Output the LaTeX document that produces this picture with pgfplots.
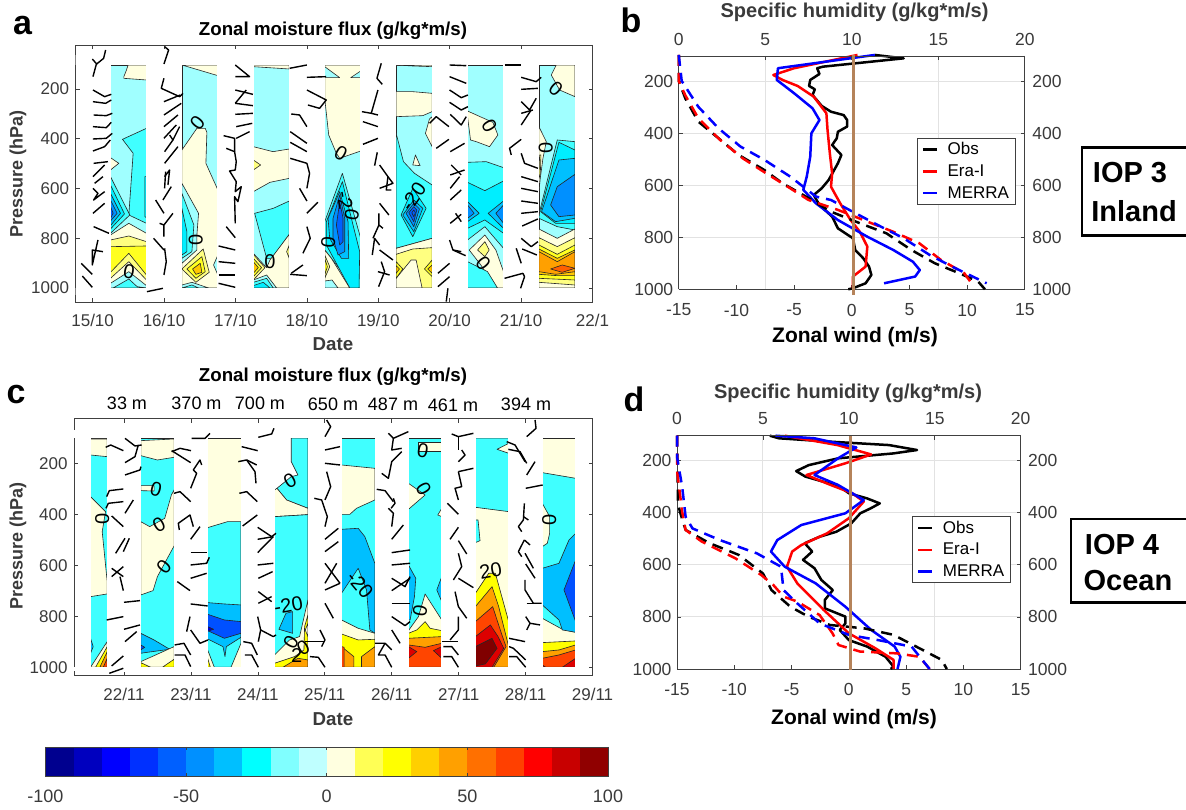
\documentclass[border=0pt]{standalone}
\usepackage{fontspec}
\setmainfont{Liberation Sans}
\usepackage{pgfplots}
\pgfplotsset{compat=1.18}
\definecolor{axg}{HTML}{404040}
\definecolor{txg}{HTML}{3A3A3A}
\definecolor{gridg}{HTML}{E2E2E2}
\definecolor{brownl}{HTML}{B5835A}
\definecolor{aL}{HTML}{A0FFFF}\definecolor{aM}{HTML}{40FFFF}\definecolor{aC}{HTML}{00EEFF}
\definecolor{aS}{HTML}{00C0FF}\definecolor{aT}{HTML}{0090FF}\definecolor{aU}{HTML}{0060FF}
\definecolor{aP}{HTML}{FFFFE0}\definecolor{aY}{HTML}{FFFF80}\definecolor{aG}{HTML}{FFFF20}
\definecolor{aO}{HTML}{FFC800}\definecolor{aA}{HTML}{FFA000}\definecolor{aR}{HTML}{FF6000}
\definecolor{cC}{HTML}{40FFFF}\definecolor{cS}{HTML}{00BFFF}\definecolor{cB}{HTML}{0050FF}\definecolor{cN}{HTML}{0000C8}
\definecolor{cP}{HTML}{FFFFE0}\definecolor{cY}{HTML}{FFFF00}\definecolor{cA}{HTML}{FFA000}
\definecolor{cR}{HTML}{FF4500}\definecolor{cD}{HTML}{DD0000}\definecolor{cK}{HTML}{800000}
\newcommand\fs[1]{\fontsize{#1}{#1}\selectfont}
\pgfplotsset{
 mat/.style={scale only axis,anchor=south west,tick align=inside,major tick length=4pt,
  axis line style={draw=axg,line width=0.9pt,-},tick style={draw=axg,line width=0.7pt},
  tick label style={text=txg},
  /pgf/number format/assume math mode=true,/pgf/number format/1000 sep={}},
 cont/.style={mat,y dir=reverse,ytick={200,400,600,800,1000},
  tick label style={text=txg,font=\fs{17}},clip=true,
  xticklabel style={yshift=-8.5pt},yticklabel style={xshift=-3pt}},
 wind/.style={mat,y dir=reverse,ymin=104,ymax=1000,clip=false,
  tick label style={text=txg,font=\fs{17.5}}},
 windbot/.style={xticklabel style={yshift=-11pt},yticklabel style={xshift=-2pt}},
 windtop/.style={xticklabel style={yshift=7pt},yticklabel style={xshift=4pt}},
 lnw/.style={line width=2.5pt,line join=round},
 dsh/.style={line width=2.5pt,line join=round,dash pattern=on 11pt off 7pt,forget plot},
 ln/.style={draw=black!85,line width=0.6pt,line join=round},
 barbA/.style={black,line width=1.4pt,line join=round,mark=none,y filter/.expression={200+(y-132)*800/597}},
 barbC/.style={black,line width=1.4pt,line join=round,mark=none,y filter/.expression={200+(y-130)*800/612}},
 lgd/.style={legend style={at={#1},anchor=north west,draw=axg,line width=0.9pt,font=\fs{17},text=black,fill=white,
  inner xsep=4pt,inner ysep=2.5pt,row sep=4.5pt,/tikz/column 1/.style={column sep=7.5pt}},
  legend cell align=left,
  legend image code/.code={\draw[##1](0pt,0pt)--(14pt,0pt);}},
}
% contour polygons: local x across a block, pressure axis
\newcommand\polyA[3]{\addplot[ln,fill=#1,mark=none,x filter/.expression={#2+x/214.3},y filter/.expression={200+(y-132)*800/597}] coordinates {#3} -- cycle;}
\newcommand\polyC[3]{\addplot[ln,fill=#1,mark=none,x filter/.expression={#2+x/200.8},y filter/.expression={200+(y-130)*800/612}] coordinates {#3} -- cycle;}
% white masks that trim the outer strokes of a block: day, right end of the gap
\newcommand\mkA[2]{\addplot[fill=white,draw=none,mark=none,x filter/.expression={#1+x/214.3},y filter/.expression={200+(y-132)*800/597}] coordinates {(106.8,30)(#2,30)(#2,750)(106.8,750)} -- cycle;
 \addplot[fill=white,draw=none,mark=none,x filter/.expression={#1+x/214.3},y filter/.expression={200+(y-132)*800/597}] coordinates {(-2,30)(110,30)(110,61)(-2,61)} -- cycle;
 \addplot[fill=white,draw=none,mark=none,x filter/.expression={#1+x/214.3},y filter/.expression={200+(y-132)*800/597}] coordinates {(-2,728)(110,728)(110,750)(-2,750)} -- cycle;}
\newcommand\mkC[3]{\addplot[fill=white,draw=none,mark=none,x filter/.expression={#1+x/200.8},y filter/.expression={200+(y-130)*800/612}] coordinates {(#3,30)(#2,30)(#2,752)(#3,752)} -- cycle;
 \addplot[fill=white,draw=none,mark=none,x filter/.expression={#1+x/200.8},y filter/.expression={200+(y-130)*800/612}] coordinates {(-2,30)(103,30)(103,55)(-2,55)} -- cycle;
 \addplot[fill=white,draw=none,mark=none,x filter/.expression={#1+x/200.8},y filter/.expression={200+(y-130)*800/612}] coordinates {(-2,741)(103,741)(103,752)(-2,752)} -- cycle;}
\newcommand\brA[1]{\addplot[barbA,x filter/.expression={15+(x-69)/214.3}] coordinates {#1};}
\newcommand\brB[1]{\addplot[barbA,x filter/.expression={19+(x-146)/214.3}] coordinates {#1};}
\newcommand\brC[1]{\addplot[barbC,x filter/.expression={22+(x-162)/200.8}] coordinates {#1};}
\newcommand\brD[1]{\addplot[barbC,x filter/.expression={26+(x-185)/200.8}] coordinates {#1};}
\newcommand\T[4]{\pgfmathsetmacro\yy{810-(#2)}\node[inner sep=0pt,#3] at (#1pt,\yy pt) {#4};}
\begin{document}
\begin{tikzpicture}
\path[use as bounding box] (0pt,0pt) rectangle (1186pt,810pt);
% ---------- panel a
\begin{axis}[cont,at={(75.5pt,508pt)},width=517pt,height=257pt,
 xmin=14.76,xmax=22,ymin=23.1,ymax=1056.3,
 xtick={15,16,17,18,19,20,21,22},xticklabels={15/10,16/10,17/10,18/10,19/10,20/10,21/10,22/1}]
% block 1
\polyA{aL}{15.25}{(0,60)(108,60)(108,729)(0,729)}
\polyA{aP}{15.25}{(53,60)(108,60)(108,105)(40,100)(40,95)(48,75)}
\polyA{aP}{15.25}{(0,338)(25,355)(0,375)}
\polyA{aM}{15.25}{(108,250)(36,283)(68,325)(55,510)(108,535)}
\polyA{aC}{15.25}{(108,395)(103,395)(103,515)(108,518)}
\polyA{aM}{15.25}{(0,395)(58,510)(0,565)}
\polyA{aC}{15.25}{(0,420)(42,507)(0,552)}
\polyA{aS}{15.25}{(0,445)(30,505)(0,542)}
\polyA{aT}{15.25}{(0,465)(20,505)(0,528)}
\polyA{aU}{15.25}{(0,485)(8,505)(0,520)}
\polyA{aP}{15.25}{(0,570)(55,535)(108,565)(108,729)(0,729)}
\polyA{aY}{15.25}{(0,585)(55,573)(108,590)(108,729)(0,729)}
\polyA{aG}{15.25}{(0,605)(108,603)(108,729)(0,729)}
\polyA{aY}{15.25}{(0,682)(55,625)(108,690)(108,729)(0,729)}
\polyA{aP}{15.25}{(0,700)(55,650)(108,705)(108,729)(0,729)}
\polyA{aL}{15.25}{(0,715)(55,680)(108,722)(108,729)(0,729)}
\polyA{aM}{15.25}{(8,729)(55,702)(80,725)(108,729)}
% block 2
\polyA{aL}{16.25}{(0,60)(108,60)(108,729)(0,729)}
\polyA{aP}{16.25}{(0,60)(108,60)(108,92)}
\polyA{aP}{16.25}{(0,315)(45,250)(70,250)(75,262)(72,355)(108,435)(108,729)(0,729)}
\polyA{aL}{16.25}{(0,415)(50,505)(45,570)(45,615)(0,655)}
\polyA{aM}{16.25}{(0,445)(36,540)(30,620)(0,640)}
\polyA{aC}{16.25}{(0,490)(15,560)(15,620)(0,630)}
\polyA{aY}{16.25}{(0,672)(64,612)(82,682)(42,712)}
\polyA{aG}{16.25}{(15,672)(60,635)(70,680)(42,700)}
\polyA{aO}{16.25}{(32,672)(55,655)(60,682)(42,688)}
\polyA{aL}{16.25}{(0,720)(30,712)(80,729)(0,729)}
\polyA{aM}{16.25}{(0,729)(30,720)(50,729)}
\polyA{aL}{16.25}{(108,630)(95,660)(108,690)}
% block 3
\polyA{aL}{17.25}{(0,60)(108,60)(108,729)(0,729)}
\polyA{aP}{17.25}{(0,60)(108,60)(108,72)(0,65)}
\polyA{aP}{17.25}{(0,305)(59,320)(108,312)(108,400)(50,412)(0,440)}
\polyA{aY}{17.25}{(0,345)(22,360)(0,375)}
\polyA{aM}{17.25}{(4,505)(60,490)(108,468)(108,568)(55,640)(40,640)}
\polyA{aP}{17.25}{(0,625)(40,668)(50,645)(108,568)(108,729)(0,729)}
\polyA{aY}{17.25}{(0,628)(35,668)(0,705)}
\polyA{aG}{17.25}{(0,640)(25,668)(0,695)}
\polyA{aO}{17.25}{(0,650)(15,668)(0,685)}
\polyA{aL}{17.25}{(0,705)(40,690)(70,729)(0,729)}
\polyA{aM}{17.25}{(0,712)(40,700)(60,729)(0,729)}
\polyA{aC}{17.25}{(0,722)(30,712)(50,729)(0,729)}
\polyA{aY}{17.25}{(108,600)(100,620)(108,640)}
% block 4
\polyA{aL}{18.25}{(0,60)(108,60)(108,729)(0,729)}
\polyA{aP}{18.25}{(0,65)(45,98)(0,98)(0,160)(12,270)(35,325)(45,340)(108,318)(108,98)(78,98)(108,78)(108,60)(0,60)}
\polyA{aM}{18.25}{(0,530)(53,385)(108,580)(108,729)(90,729)(20,640)(0,615)}
\polyA{aC}{18.25}{(5,530)(53,410)(85,540)(105,620)(103,729)(75,729)(5,600)}
\polyA{aS}{18.25}{(10,520)(45,440)(70,530)(72,640)(50,640)(15,580)}
\polyA{aT}{18.25}{(25,520)(45,450)(60,520)(60,620)(40,630)(25,580)}
\polyA{aU}{18.25}{(45,470)(55,520)(55,590)(45,600)(35,540)}
\polyA{aP}{18.25}{(0,615)(20,640)(75,729)(0,729)}
\polyA{aY}{18.25}{(0,630)(15,665)(0,700)}
\polyA{aG}{18.25}{(0,640)(8,665)(0,690)}
\polyA{aL}{18.25}{(0,708)(22,705)(40,729)(0,729)}
% block 5
\polyA{aL}{19.25}{(0,60)(108,60)(108,729)(0,729)}
\polyA{aP}{19.25}{(0,60)(108,60)(108,65)(50,63)}
\polyA{aP}{19.25}{(0,140)(50,140)(108,145)(108,200)(80,212)(0,215)}
\polyA{aP}{19.25}{(108,215)(100,222)(88,265)(108,305)}
\polyA{aM}{19.25}{(0,265)(22,350)(55,385)(108,420)(108,580)(0,610)}
\polyA{aP}{19.25}{(50,360)(58,330)(72,362)}
\polyA{aC}{19.25}{(15,510)(50,430)(90,490)(50,575)}
\polyA{aS}{19.25}{(20,510)(53,465)(80,490)(53,560)}
\polyA{aT}{19.25}{(30,505)(53,475)(70,492)(53,545)}
\polyA{aU}{19.25}{(38,503)(53,485)(62,495)(53,530)}
\polyA{aU}{19.25}{(47,503)(53,495)(58,503)(53,515)}
\polyA{aP}{19.25}{(0,610)(108,580)(108,729)(0,729)}
\polyA{aY}{19.25}{(0,628)(50,612)(108,608)(108,729)(0,729)}
\polyA{aP}{19.25}{(0,700)(45,645)(60,645)(78,729)(0,729)}
\polyA{aG}{19.25}{(0,650)(20,672)(0,700)}
\polyA{aO}{19.25}{(0,662)(10,672)(0,685)}
\polyA{aG}{19.25}{(108,645)(85,672)(108,695)}
\polyA{aO}{19.25}{(108,660)(95,672)(108,685)}
% block 6
\polyA{aL}{20.25}{(0,60)(108,60)(108,729)(0,729)}
\polyA{aP}{20.25}{(0,198)(31,212)(76,232)(91,270)(66,305)(26,290)(9,285)(0,215)}
\polyA{aM}{20.25}{(0,352)(56,350)(108,368)(108,729)(0,729)}
\polyA{aC}{20.25}{(0,412)(52,437)(108,408)(108,565)(52,525)(0,550)}
\polyA{aS}{20.25}{(0,470)(35,505)(0,530)}
\polyA{aT}{20.25}{(0,480)(20,505)(0,520)}
\polyA{aS}{20.25}{(108,468)(62,505)(108,550)}
\polyA{aT}{20.25}{(108,480)(85,505)(108,535)}
\polyA{aL}{20.25}{(0,585)(52,545)(108,610)(108,729)(0,729)}
\polyA{aP}{20.25}{(5,615)(52,570)(85,615)(108,680)(108,729)(85,729)(40,660)}
\polyA{aY}{20.25}{(30,615)(52,590)(65,615)(52,635)}
\polyA{aM}{20.25}{(0,650)(60,680)(90,729)(0,729)}
% block 7
\polyA{aL}{21.25}{(0,60)(108,60)(108,729)(0,729)}
\polyA{aP}{21.25}{(52,60)(37,90)(62,135)(108,155)(108,60)}
\polyA{aP}{21.25}{(0,245)(22,290)(12,340)(4,400)(0,440)}
\polyA{aY}{21.25}{(2,330)(6,330)(4,390)(0,400)}
\polyA{aM}{21.25}{(2,500)(55,285)(108,290)(108,555)(55,545)(0,520)}
\polyA{aC}{21.25}{(5,500)(60,292)(108,315)(108,535)(50,535)}
\polyA{aS}{21.25}{(8,500)(60,345)(108,340)(108,520)(50,530)}
\polyA{aT}{21.25}{(35,480)(55,425)(108,388)(108,510)(60,515)}
\polyA{aP}{21.25}{(0,552)(55,580)(108,552)(108,729)(0,729)}
\polyA{aY}{21.25}{(0,578)(55,605)(108,578)(108,729)(0,729)}
\polyA{aG}{21.25}{(0,600)(55,628)(108,600)(108,729)(0,729)}
\polyA{aO}{21.25}{(0,612)(55,640)(108,615)(108,729)(0,729)}
\polyA{aA}{21.25}{(0,620)(55,650)(108,620)(108,729)(0,729)}
\polyA{aR}{21.25}{(35,672)(70,660)(108,670)(70,682)}
\polyA{aO}{21.25}{(0,680)(50,688)(108,680)(108,729)(0,729)}
\polyA{aG}{21.25}{(0,688)(55,692)(108,692)(108,729)(0,729)}
\polyA{aY}{21.25}{(0,700)(108,705)(108,729)(0,729)}
\polyA{aP}{21.25}{(0,712)(108,720)(108,729)(0,729)}
\mkA{14.75}{108.2}
\mkA{15.25}{215.3}\mkA{16.25}{215.3}\mkA{17.25}{215.3}\mkA{18.25}{215.3}\mkA{19.25}{215.3}\mkA{20.25}{215.3}\mkA{21.25}{112}
% barbs, column 15..18
\brA{(108,15)(102,40)(80,58)(70,95)}\brA{(68,42)(82,58)}
\brA{(70,135)(105,155)(125,148)}\brA{(70,170)(108,175)(125,165)}
\brA{(72,210)(110,212)(128,205)}\brA{(70,245)(110,248)(125,232)}
\brA{(70,282)(110,280)(128,265)}\brA{(70,318)(105,305)(122,285)}
\brA{(72,355)(115,350)}\brA{(70,395)(105,360)}\brA{(75,415)(100,395)}
\brA{(70,430)(85,445)(72,465)(105,440)}\brA{(70,505)(105,475)}\brA{(72,545)(118,565)}
\brA{(35,655)(68,688)}\brA{(38,693)(68,727)}\brA{(85,585)(68,660)(68,615)(100,620)}
\brA{(285,5)(297,15)(283,57)}\brA{(283,100)(275,130)(330,155)(340,145)}
\brA{(283,170)(332,150)}\brA{(283,210)(335,175)}\brA{(283,245)(325,210)}\brA{(283,280)(320,240)}
\brA{(300,270)(310,285)(285,320)}\brA{(330,245)(310,285)}\brA{(285,355)(325,305)}
\brA{(285,395)(300,375)(295,420)}\brA{(285,430)(288,380)}\brA{(280,465)(305,425)}
\brA{(258,465)(283,505)}\brA{(283,575)(283,540)(310,505)}\brA{(283,540)(270,535)}
\brA{(252,580)(283,615)}\brA{(285,610)(290,650)(283,690)}\brA{(232,740)(280,730)}
\brA{(497,60)(540,95)(497,95)}\brA{(497,135)(550,148)}\brA{(530,135)(497,175)}\brA{(497,175)(550,182)}
\brA{(497,208)(550,205)}\brA{(500,245)(548,235)}\brA{(500,280)(540,260)}
\brA{(462,272)(495,280)(495,320)}\brA{(470,310)(495,320)(500,350)(497,375)(480,378)(500,410)(497,440)(515,425)(505,470)(495,455)(497,535)}
\brA{(470,545)(497,578)}\brA{(447,603)(497,615)}\brA{(447,650)(497,655)}\brA{(447,690)(497,690)}\brA{(447,715)(497,727)}
\brA{(660,70)(712,60)}\brA{(712,97)(770,95)}\brA{(712,135)(770,165)(750,190)(715,180)}
\brA{(665,207)(690,210)(712,245)}\brA{(662,260)(712,295)}\brA{(662,292)(712,320)}
\brA{(662,340)(712,355)(720,385)(712,430)}\brA{(690,430)(712,468)}\brA{(712,505)(745,472)}
\brA{(712,545)(722,580)(700,625)}\brA{(662,688)(712,692)}\brA{(665,685)(700,660)}
% column 19..21
\brB{(155,55)(142,100)(158,118)}\brB{(145,135)(125,205)(97,200)}\brB{(125,205)(145,210)}
\brB{(100,230)(145,245)}\brB{(100,298)(145,280)}\brB{(135,362)(143,322)}
\brB{(150,360)(175,395)(190,415)(150,430)}\brB{(175,395)(170,435)(185,435)}\brB{(150,475)(178,510)}
\brB{(148,505)(148,540)(160,550)}\brB{(130,580)(148,540)}\brB{(128,630)(135,580)(150,600)}
\brB{(150,615)(190,645)}\brB{(145,680)(180,690)}\brB{(155,650)(165,680)(147,725)}
\brB{(360,60)(410,62)}\brB{(360,95)(410,115)}\brB{(360,135)(395,158)(415,150)}
\brB{(360,172)(395,195)(415,185)}\brB{(362,208)(395,240)(410,215)}\brB{(300,235)(320,215)(358,245)}
\brB{(320,310)(358,283)}\brB{(362,320)(405,295)}\brB{(362,390)(405,375)}\brB{(362,430)(390,395)}
\brB{(395,390)(365,360)}\brB{(362,465)(395,435)}\brB{(362,535)(395,508)}\brB{(378,505)(395,530)}
\brB{(360,585)(370,615)(408,632)}\brB{(395,620)(370,615)}\brB{(325,685)(360,655)}\brB{(325,725)(360,695)}\brB{(355,730)(350,770)}
\brB{(525,60)(575,60)}\brB{(575,97)(620,110)(635,97)}\brB{(575,133)(625,130)}
\brB{(575,170)(600,195)(620,160)}\brB{(575,205)(610,195)}\brB{(575,240)(605,195)}
\brB{(545,330)(540,310)(575,283)}\brB{(575,325)(585,355)(625,370)}\brB{(575,395)(625,410)}
\brB{(575,430)(625,440)}\brB{(575,468)(625,475)}\brB{(575,505)(625,500)}\brB{(578,543)(625,522)}
\brB{(575,580)(605,605)(625,590)}\brB{(578,612)(622,630)}\brB{(560,610)(575,655)}\brB{(525,700)(580,685)(585,695)(573,730)}
\end{axis}
% ---------- panel c
\begin{axis}[cont,at={(74pt,134.3pt)},width=518.5pt,height=257pt,
 xmin=21.253,xmax=29,ymin=25,ymax=1033,
 xtick={22,23,24,25,26,27,28,29},xticklabels={22/11,23/11,24/11,25/11,26/11,27/11,28/11,29/11}]
% block 0
\polyC{cC}{21.5}{(0,54)(50,54)(50,742)(0,742)}
\polyC{cP}{21.5}{(0,57)(50,57)(50,110)(0,105)}
\polyC{cP}{21.5}{(0,230)(45,275)(35,335)(50,485)(50,522)(0,530)}
\polyC{cS}{21.5}{(0,655)(8,680)(0,700)}
\polyC{cP}{21.5}{(0,742)(50,665)(50,742)}
\polyC{cY}{21.5}{(15,742)(50,680)(50,742)}
\polyC{cA}{21.5}{(28,742)(50,695)(50,742)}
\polyC{cR}{21.5}{(38,742)(50,715)(50,742)}
% block 1
\polyC{cC}{22.25}{(0,54)(100,54)(100,742)(0,742)}
\polyC{cP}{22.25}{(0,62)(100,57)(100,112)(50,120)(0,107)}
\polyC{cP}{22.25}{(0,197)(40,197)(40,213)(0,212)}
\polyC{cP}{22.25}{(0,305)(27,320)(72,295)(92,225)(100,210)(100,378)(50,470)(37,512)(0,525)}
\polyC{cS}{22.25}{(0,640)(40,660)(87,688)(20,697)(0,700)}
\polyC{cB}{22.25}{(0,675)(12,682)(0,690)}
\polyC{cP}{22.25}{(0,725)(45,705)(100,680)(100,742)(0,742)}
\polyC{cY}{22.25}{(0,728)(30,742)(0,742)}
\polyC{cY}{22.25}{(65,742)(100,718)(100,742)}
% block 2
\polyC{cP}{23.25}{(0,54)(100,54)(100,742)(0,742)}
\polyC{cC}{23.25}{(0,323)(60,305)(100,305)(100,670)(70,742)(20,742)(0,690)}
\polyC{cS}{23.25}{(0,548)(50,552)(100,555)(100,652)(56,680)(52,710)(46,680)(0,657)}
\polyC{cB}{23.25}{(0,583)(50,600)(100,605)(100,640)(50,655)(0,632)}
\polyC{cN}{23.25}{(0,620)(18,628)(0,634)}
\polyC{cY}{23.25}{(0,715)(8,742)(0,742)}
% block 3
\polyC{cC}{24.25}{(50,54)(100,54)(100,265)(36,240)(7,205)(50,170)(70,165)(50,125)}
\polyC{cP}{24.25}{(0,210)(7,205)(36,240)(100,265)(100,284)(0,290)}
\polyC{cC}{24.25}{(0,290)(100,284)(100,742)(0,742)}
\polyC{cS}{24.25}{(13,628)(34,580)(54,575)(54,640)}
\polyC{cP}{24.25}{(0,705)(45,660)(75,650)(100,540)(100,742)(0,742)}
\polyC{cY}{24.25}{(0,730)(60,710)(88,690)(90,620)(100,585)(100,742)(0,742)}
\polyC{cP}{24.25}{(100,610)(92,630)(100,650)}
\polyC{cA}{24.25}{(25,742)(70,715)(100,720)(100,742)}
% block 4
\polyC{cC}{25.25}{(0,54)(100,54)(100,742)(0,742)}
\polyC{cP}{25.25}{(0,135)(100,145)(100,240)(45,265)(25,283)(0,283)}
\polyC{cS}{25.25}{(0,328)(50,325)(70,350)(100,430)(100,640)(85,630)(75,510)(50,445)(0,520)}
\polyC{cP}{25.25}{(0,600)(50,625)(100,640)(100,742)(0,742)}
\polyC{cY}{25.25}{(0,642)(50,660)(100,658)(100,742)(0,742)}
\polyC{cA}{25.25}{(0,680)(37,710)(37,742)(0,742)}
\polyC{cA}{25.25}{(60,710)(100,680)(100,742)(60,742)}
\polyC{cR}{25.25}{(0,680)(8,682)(8,742)(0,742)}
% block 5
\polyC{cC}{26.25}{(0,54)(100,54)(100,742)(0,742)}
\polyC{cP}{26.25}{(30,68)(100,68)(100,93)(30,93)}
\polyC{cP}{26.25}{(0,190)(50,225)(0,268)}
\polyC{cP}{26.25}{(100,265)(88,285)(100,290)}
\polyC{cS}{26.25}{(0,435)(22,475)(18,530)(5,600)(0,600)}
\polyC{cS}{26.25}{(100,470)(85,510)(100,545)}
\polyC{cP}{26.25}{(0,632)(30,590)(50,522)(100,600)(100,640)(50,650)(0,650)}
\polyC{cY}{26.25}{(0,640)(25,630)(50,605)(65,625)(100,632)(100,742)(0,742)}
\polyC{cA}{26.25}{(0,655)(100,650)(100,742)(0,742)}
\polyC{cR}{26.25}{(0,675)(50,682)(100,670)(100,742)(0,742)}
\polyC{cD}{26.25}{(0,680)(25,695)(0,715)}
\polyC{cD}{26.25}{(100,680)(75,692)(100,715)}
% block 6
\polyC{cP}{27.25}{(0,54)(100,54)(100,742)(0,742)}
\polyC{cC}{27.25}{(0,54)(100,54)(100,70)(65,88)(100,100)(100,275)(0,262)}
\polyC{cC}{27.25}{(0,300)(8,300)(14,362)(0,368)}
\polyC{cY}{27.25}{(0,520)(40,460)(60,460)(100,605)(100,742)(0,742)}
\polyC{cA}{27.25}{(0,560)(50,500)(70,560)(100,680)(100,742)(0,742)}
\polyC{cR}{27.25}{(0,605)(52,560)(78,640)(92,680)(55,742)(0,742)}
\polyC{cD}{27.25}{(0,650)(45,615)(68,650)(85,685)(50,742)(0,742)}
\polyC{cK}{27.25}{(0,680)(50,655)(65,685)(30,732)(0,738)}
% block 7
\polyC{cP}{28.25}{(0,54)(100,54)(100,742)(0,742)}
\polyC{cC}{28.25}{(0,158)(100,175)(100,637)(60,628)(0,595)(0,380)(15,370)(22,340)(22,290)(0,250)}
\polyC{cS}{28.25}{(0,445)(50,430)(80,360)(100,340)(100,637)(60,630)(50,600)(0,555)}
\polyC{cB}{28.25}{(100,420)(65,510)(100,605)}
\polyC{cY}{28.25}{(0,668)(100,663)(100,742)(0,742)}
\polyC{cA}{28.25}{(0,695)(50,690)(100,675)(100,742)(0,742)}
\polyC{cR}{28.25}{(0,715)(50,705)(100,690)(100,742)(0,742)}
\polyC{cD}{28.25}{(60,742)(100,715)(100,742)}
\polyC{cD}{28.25}{(0,735)(10,742)(0,742)}
\mkC{21.25}{51.1}{40}
\mkC{21.5}{151.5}{49}
\mkC{22.25}{201.7}{99}\mkC{23.25}{201.7}{99}\mkC{24.25}{201.7}{99}\mkC{25.25}{201.7}{99}\mkC{26.25}{201.7}{99}\mkC{27.25}{201.7}{99}\mkC{28.25}{103}{99}
% barbs
\brC{(107,82)(122,75)(160,92)}\brC{(165,55)(195,78)(215,75)}\brC{(205,75)(195,110)(165,128)}
\brC{(165,165)(210,150)(213,140)}\brC{(110,230)(118,212)(160,207)}\brC{(108,265)(115,250)(160,245)}
\brC{(125,288)(160,320)}\brC{(165,280)(190,240)}\brC{(137,400)(165,355)}\brC{(160,395)(178,355)}
\brC{(125,445)(160,470)}\brC{(125,470)(160,440)}\brC{(150,470)(160,512)}\brC{(162,547)(210,542)}
\brC{(110,600)(160,590)}\brC{(162,628)(210,615)}\brC{(165,665)(200,635)}\brC{(125,738)(160,708)}\brC{(118,760)(160,745)}
\brC{(305,95)(330,85)(363,92)}\brC{(305,92)(362,128)}\brC{(365,55)(405,55)(420,40)}
\brC{(362,205)(380,160)(370,150)(390,120)(395,135)}\brC{(312,220)(330,215)(362,245)}
\brC{(328,330)(325,310)(360,285)(370,320)}\brC{(362,358)(390,320)}\brC{(362,398)(412,398)}
\brC{(362,435)(410,430)(418,412)}\brC{(362,475)(410,460)}\brC{(322,485)(360,512)}\brC{(362,552)(413,558)}
\brC{(350,635)(360,590)}\brC{(362,630)(390,670)(414,660)}\brC{(314,675)(342,670)(362,705)}\brC{(314,705)(345,705)(362,740)}
\brC{(565,52)(605,42)(612,25)}\brC{(515,80)(563,92)}\brC{(505,125)(530,120)(560,135)}\brC{(530,120)(555,155)(558,190)}
\brC{(508,220)(530,215)(562,245)}\brC{(518,318)(562,285)}\brC{(563,322)(605,350)(618,340)}\brC{(563,358)(610,350)}
\brC{(563,398)(610,350)}\brC{(563,435)(610,430)}\brC{(565,475)(608,455)}\brC{(565,515)(605,545)}\brC{(565,550)(605,530)}
\brC{(563,590)(572,630)(565,665)}\brC{(572,630)(610,650)(618,645)}\brC{(520,665)(545,670)(562,705)}\brC{(525,705)(545,705)(565,742)}
\brC{(770,0)(782,20)(765,50)}\brC{(765,90)(810,80)}\brC{(765,130)(810,135)}\brC{(770,155)(782,200)(765,240)}
\brC{(733,235)(755,240)(772,290)(765,320)}\brC{(765,358)(805,325)}\brC{(765,395)(805,365)}
\brC{(765,430)(810,490)}\brC{(765,490)(800,430)}\brC{(765,510)(810,490)}\brC{(765,550)(790,595)}
\brC{(750,630)(765,660)(755,680)}\brC{(705,665)(765,665)}\brC{(720,710)(745,712)(765,742)}
\brD{(175,40)(190,55)(235,35)}\brD{(190,55)(185,90)(215,85)}\brD{(155,160)(175,175)(185,125)(215,95)}
\brD{(140,208)(165,212)(190,245)}\brD{(190,235)(195,250)(183,265)}\brD{(175,265)(190,280)(185,320)}
\brD{(185,358)(220,315)}\brD{(185,398)(240,390)}\brD{(185,435)(240,430)}\brD{(185,475)(225,500)(240,470)}
\brD{(185,512)(240,475)}\brD{(185,550)(240,550)}\brD{(185,590)(225,617)(240,605)}\brD{(185,630)(210,670)}
\brD{(135,670)(165,670)(185,690)}\brD{(165,670)(145,705)(165,705)(185,742)}
\brD{(365,42)(385,50)(430,40)}\brD{(385,50)(385,90)}\brD{(395,90)(405,105)(385,125)}\brD{(385,155)(430,145)}
\brD{(385,155)(395,200)(375,205)(385,240)}\brD{(352,250)(385,283)}\brD{(360,358)(385,322)}\brD{(385,362)(410,402)}
\brD{(385,400)(395,440)(370,480)}\brD{(385,475)(430,503)}\brD{(375,515)(385,560)(410,595)}\brD{(385,590)(385,630)(360,660)}
\brD{(335,665)(385,665)}\brD{(340,680)(365,680)(385,705)}\brD{(340,710)(365,710)(385,742)}
\brD{(615,0)(618,25)(590,50)}\brD{(530,65)(555,75)(585,125)}\brD{(535,88)(570,95)(590,130)}\brD{(590,165)(615,125)}
\brD{(587,205)(638,195)}\brD{(583,250)(580,300)(565,320)(575,335)}\brD{(580,290)(595,300)}\brD{(583,360)(565,395)(575,410)}
\brD{(583,360)(600,375)}\brD{(585,400)(610,445)}\brD{(587,432)(615,475)}\brD{(585,480)(585,510)(610,550)(635,550)}
\brD{(590,550)(610,550)}\brD{(587,590)(600,610)(630,615)}\brD{(600,610)(590,630)}\brD{(537,655)(585,665)}
\brD{(537,680)(550,685)(587,720)}\brD{(537,710)(560,710)(587,742)}
\end{axis}
% ---------- panel b
\begin{axis}[wind,windbot,at={(678.75pt,520.7pt)},width=346pt,height=233.3pt,
 xmin=-15,xmax=15,axis x line*=bottom,axis y line*=left,
 xtick={-15,-10,-5,0,5,10,15},xticklabels={-15,-10,-5,0,5,10,15},
 ytick={200,400,600,800,1000},ymajorgrids,grid style={gridg,line width=0.9pt},
 extra x ticks={-7.5,7.5},extra x tick labels={},extra x tick style={grid=major,major tick length=0pt}]
\addplot[lnw,black] coordinates {(2,100)(4.5,113)(-2.5,145)(-3,151)(-2.8,173)(-3.6,196)(-3.7,219)(-3.2,232)(-3.4,254)(-2.6,296)(-1.8,318)(-0.7,331)(-0.4,350)(-0.4,375)(-1.2,395)(-1.3,420)(-1.7,446)(-0.9,484)(-1.2,516)(-1.6,548)(-2,580)(-2.6,612)(-3.3,638)(-2.8,676)(-1.7,721)(-1.2,766)(0.1,804)(0.3,849)(1,881)(1.5,913)(1.7,945)(1.2,977)(0.1,996)(-0.3,1000)};
\addplot[lnw,red] coordinates {(0.5,100)(-5,151)(-6.8,177)(-6,196)(-4.7,219)(-3.3,260)(-2.2,324)(-2.1,388)(-1.9,478)(-1.7,555)(-1.8,606)(-1,670)(-0.1,734)(0.7,779)(1.35,836)(1.2,913)(0.1,951)(0.1,996)};
\addplot[lnw,blue] coordinates {(2,100)(-6.4,151)(-6.5,196)(-5,247)(-3.4,305)(-2.8,350)(-3.5,401)(-3.6,491)(-3.9,567)(-4.2,618)(-3.1,670)(-1.2,734)(1.35,798)(3.6,849)(5.3,894)(5.9,926)(5.5,951)(2.8,977)};
\end{axis}
\begin{axis}[wind,windtop,lgd={(0.689,0.65)},at={(678.75pt,520.7pt)},width=346pt,height=233.3pt,
 xmin=0,xmax=20,axis x line*=top,axis y line*=right,
 xtick={0,5,10,15,20},ytick={200,400,600,800,1000}]
\addplot[dsh,black] coordinates {(0,100)(0,200)(0.38,267)(1.13,356)(2.3,420)(3.46,484)(4.95,542)(6,593)(7.2,638)(8.8,702)(10.5,747)(12,785)(13.45,849)(14.8,900)(16.2,938)(17.3,970)(17.7,1000)};
\addplot[dsh,red] coordinates {(0,100)(0,200)(0.38,255)(1.13,343)(2.4,427)(3.7,497)(5.06,555)(6.44,612)(7.5,657)(9.2,695)(10.9,740)(12.4,779)(13.9,823)(15.15,887)(16.5,938)(17.07,990)};
\addplot[dsh,blue] coordinates {(0,100)(0.17,200)(1.13,299)(2.3,382)(3.57,452)(4.95,503)(6.44,567)(7.93,644)(8.8,657)(10.05,702)(11.5,753)(13,804)(14.5,868)(15.8,913)(17.8,977)};
\addplot[line width=2.5pt,brownl,forget plot] coordinates {(10.09,100)(10.09,1020)};
\addlegendimage{line width=2.5pt,black}\addlegendentry{Obs}
\addlegendimage{line width=2.5pt,red}\addlegendentry{Era-I}
\addlegendimage{line width=2.5pt,blue}\addlegendentry{MERRA}
\end{axis}
% ---------- panel d
\begin{axis}[wind,windbot,at={(677pt,141pt)},width=343.7pt,height=233.3pt,
 xmin=-15,xmax=15,axis x line*=bottom,axis y line*=left,
 xtick={-15,-10,-5,0,5,10,15},xticklabels={-15,-10,-5,0,5,10,15},
 ytick={200,400,600,800,1000},ymajorgrids,grid style={gridg,line width=0.9pt},
 extra x ticks={-7.5,7.5},extra x tick labels={},extra x tick style={grid=major,major tick length=0pt}]
\addplot[lnw,black] coordinates {(-6.9,104)(-6.1,114)(-1.6,127)(3.5,140)(5.95,159)(3.9,172)(-0.95,191)(-3.5,217)(-4.6,240)(-3.8,261)(-2.2,281)(-0.8,300)(0,325)(1.6,345)(2.7,364)(1.9,383)(1,402)(0.2,441)(-1.1,473)(-2.55,492)(-3.85,517)(-3.2,549)(-4,581)(-3,613)(-2.4,658)(-1.4,697)(-2.1,735)(-2.1,767)(-0.3,799)(-0.3,825)(-0.8,850)(0,889)(1.6,914)(3.2,953)(3.9,991)(3.65,1000)};
\addplot[lnw,red] coordinates {(-5.6,104)(-1,140)(1.95,176)(-0.3,210)(-3.7,255)(-1.6,293)(0.3,325)(1.3,357)(0,421)(-1.9,479)(-4.15,524)(-4.95,549)(-5.4,607)(-4.5,671)(-2.2,773)(0,863)(2.3,920)(3.9,965)(3.9,1000)};
\addplot[lnw,blue] coordinates {(-6.4,104)(-3,114)(0.65,149)(-0.95,191)(-3,255)(-0.95,293)(1.3,351)(-0.3,402)(-4.15,447)(-6.25,505)(-6.8,549)(-5.6,607)(-2.9,671)(-0.3,761)(1.95,850)(4,914)(4.5,953)(4.25,1000)};
\end{axis}
\begin{axis}[wind,windtop,lgd={(0.685,0.656)},at={(677pt,141pt)},width=343.7pt,height=233.3pt,
 xmin=0,xmax=20,axis x line*=top,axis y line*=right,
 xtick={0,5,10,15,20},ytick={200,400,600,800,1000}]
\addplot[dsh,black] coordinates {(0,104)(0.06,364)(0.17,396)(0.5,466)(1.9,517)(3.6,562)(5,633)(5.5,697)(6.6,761)(7.65,799)(8.9,831)(10.9,844)(12.6,869)(14.3,927)(15.4,965)(15.7,1000)};
\addplot[dsh,red] coordinates {(0,104)(0,236)(0.3,396)(0.5,466)(1.45,511)(3.4,575)(4.9,639)(5.6,677)(6.2,722)(7,741)(8.3,793)(9.05,863)(9.4,908)(10.65,933)(12.8,940)(14.1,953)(14.7,1000)};
\addplot[dsh,blue] coordinates {(0,104)(0,185)(0.3,300)(0.5,415)(0.9,460)(2.5,505)(4.65,556)(6.05,607)(6.2,697)(7,748)(8.3,825)(10,869)(11.7,889)(13.65,914)(14.7,1000)};
\addplot[line width=2.5pt,brownl,forget plot] coordinates {(10.09,104)(10.09,1005)};
\addlegendimage{line width=2.5pt,black}\addlegendentry{Obs}
\addlegendimage{line width=2.5pt,red}\addlegendentry{Era-I}
\addlegendimage{line width=2.5pt,blue}\addlegendentry{MERRA}
\end{axis}
% ---------- colour bar
\begin{axis}[mat,at={(45.5pt,34pt)},width=562.5pt,height=29pt,xmin=-100,xmax=100,ymin=0,ymax=1,
 ytick=\empty,xtick={-100,-50,0,50,100},xticklabels={-100,-50,0,50,100},major tick length=3pt,
 tick label style={text=txg,font=\fs{18}},xticklabel style={yshift=-10pt},axis on top]
\addplot[draw=none,fill={rgb,255:red,0;green,0;blue,143}] coordinates {(-100,0)(-90,0)(-90,1)(-100,1)} -- cycle;
\addplot[draw=none,fill={rgb,255:red,0;green,0;blue,191}] coordinates {(-90,0)(-80,0)(-80,1)(-90,1)} -- cycle;
\addplot[draw=none,fill={rgb,255:red,0;green,0;blue,255}] coordinates {(-80,0)(-70,0)(-70,1)(-80,1)} -- cycle;
\addplot[draw=none,fill={rgb,255:red,0;green,48;blue,255}] coordinates {(-70,0)(-60,0)(-60,1)(-70,1)} -- cycle;
\addplot[draw=none,fill={rgb,255:red,0;green,96;blue,255}] coordinates {(-60,0)(-50,0)(-50,1)(-60,1)} -- cycle;
\addplot[draw=none,fill={rgb,255:red,0;green,144;blue,255}] coordinates {(-50,0)(-40,0)(-40,1)(-50,1)} -- cycle;
\addplot[draw=none,fill={rgb,255:red,0;green,191;blue,255}] coordinates {(-40,0)(-30,0)(-30,1)(-40,1)} -- cycle;
\addplot[draw=none,fill={rgb,255:red,0;green,255;blue,255}] coordinates {(-30,0)(-20,0)(-20,1)(-30,1)} -- cycle;
\addplot[draw=none,fill={rgb,255:red,128;green,255;blue,255}] coordinates {(-20,0)(-10,0)(-10,1)(-20,1)} -- cycle;
\addplot[draw=none,fill={rgb,255:red,191;green,255;blue,255}] coordinates {(-10,0)(0,0)(0,1)(-10,1)} -- cycle;
\addplot[draw=none,fill={rgb,255:red,255;green,255;blue,224}] coordinates {(0,0)(10,0)(10,1)(0,1)} -- cycle;
\addplot[draw=none,fill={rgb,255:red,255;green,255;blue,85}] coordinates {(10,0)(20,0)(20,1)(10,1)} -- cycle;
\addplot[draw=none,fill={rgb,255:red,255;green,255;blue,0}] coordinates {(20,0)(30,0)(30,1)(20,1)} -- cycle;
\addplot[draw=none,fill={rgb,255:red,255;green,207;blue,0}] coordinates {(30,0)(40,0)(40,1)(30,1)} -- cycle;
\addplot[draw=none,fill={rgb,255:red,255;green,160;blue,0}] coordinates {(40,0)(50,0)(50,1)(40,1)} -- cycle;
\addplot[draw=none,fill={rgb,255:red,255;green,112;blue,0}] coordinates {(50,0)(60,0)(60,1)(50,1)} -- cycle;
\addplot[draw=none,fill={rgb,255:red,255;green,64;blue,0}] coordinates {(60,0)(70,0)(70,1)(60,1)} -- cycle;
\addplot[draw=none,fill={rgb,255:red,255;green,0;blue,0}] coordinates {(70,0)(80,0)(80,1)(70,1)} -- cycle;
\addplot[draw=none,fill={rgb,255:red,200;green,0;blue,0}] coordinates {(80,0)(90,0)(90,1)(80,1)} -- cycle;
\addplot[draw=none,fill={rgb,255:red,144;green,0;blue,0}] coordinates {(90,0)(100,0)(100,1)(90,1)} -- cycle;
\end{axis}
% ---------- texts
\T{333}{31}{font=\fs{18.7}\bfseries}{Zonal moisture flux (g/kg*m/s)}
\T{333}{377}{font=\fs{18.7}\bfseries}{Zonal moisture flux (g/kg*m/s)}
\T{333}{344}{font=\fs{18.7}\bfseries,text=txg}{Date}
\T{333}{719}{font=\fs{18.7}\bfseries,text=txg}{Date}
\T{18}{174}{font=\fs{18}\bfseries,text=txg,rotate=90}{Pressure (hPa)}
\T{18}{546}{font=\fs{18}\bfseries,text=txg,rotate=90}{Pressure (hPa)}
\T{854.5}{12}{font=\fs{20}\bfseries,text=txg}{Specific humidity (g/kg*m/s)}
\T{848}{393}{font=\fs{20}\bfseries,text=txg}{Specific humidity (g/kg*m/s)}
\T{855}{337}{font=\fs{21}\bfseries}{Zonal wind (m/s)}
\T{854}{719}{font=\fs{21}\bfseries}{Zonal wind (m/s)}
\T{22.5}{26}{font=\fs{34}\bfseries}{a}
\T{631}{20}{font=\fs{34}\bfseries}{b}
\T{16}{395}{font=\fs{34}\bfseries}{c}
\T{634}{399}{font=\fs{34}\bfseries}{d}
\T{127}{403}{font=\fs{18}}{33 m}
\T{196.5}{403}{font=\fs{18}}{370 m}
\T{260}{403}{font=\fs{18}}{700 m}
\T{333}{404}{font=\fs{18}}{650 m}
\T{393}{404}{font=\fs{18}}{487 m}
\T{453}{405}{font=\fs{18}}{461 m}
\T{526}{404}{font=\fs{18}}{394 m}
% contour labels
\newcommand\lb[4]{\T{#1}{#2}{font=\fs{20},rotate=#3}{#4}}
\lb{129}{271.7}{-10}{0}\lb{197.3}{122.7}{50}{0}\lb{195.7}{240}{90}{0}\lb{270}{261.7}{0}{0}\lb{328.3}{242.3}{85}{0}
\lb{341}{153.3}{-30}{0}\lb{351.7}{215}{80}{0}\lb{345}{200}{-80}{-2}\lb{413.3}{196.7}{55}{-20}
\lb{489.3}{126}{-60}{0}\lb{483.3}{263.3}{-50}{0}\lb{555.7}{89}{-40}{0}\lb{545.7}{147.7}{90}{0}
\lb{102.3}{518.7}{90}{0}\lb{156}{489.3}{-15}{0}\lb{159}{524.3}{30}{0}\lb{164}{566.7}{50}{0}
\lb{290}{481}{30}{0}\lb{288.3}{605}{10}{-20}\lb{291}{642.7}{60}{0}\lb{303.3}{647.3}{30}{0}\lb{296.7}{656}{0}{2}
\lb{422.7}{450.7}{-10}{0}\lb{423.7}{489}{-60}{0}\lb{420}{611}{80}{0}\lb{360}{585}{-50}{-20}
\lb{490.7}{571}{10}{20}\lb{549.3}{520}{90}{0}
% IOP boxes
\draw[black,line width=2.8pt] (1082pt,662.3pt) rectangle (1190pt,574.7pt);
\T{1130}{173}{font=\fs{29}\bfseries}{IOP 3}
\T{1134}{211}{font=\fs{29}\bfseries}{Inland}
\draw[black,line width=2.8pt] (1071pt,291pt) rectangle (1190pt,207.7pt);
\T{1122}{545}{font=\fs{29}\bfseries}{IOP 4}
\T{1128}{581}{font=\fs{29}\bfseries}{Ocean}
\end{tikzpicture}
\end{document}
